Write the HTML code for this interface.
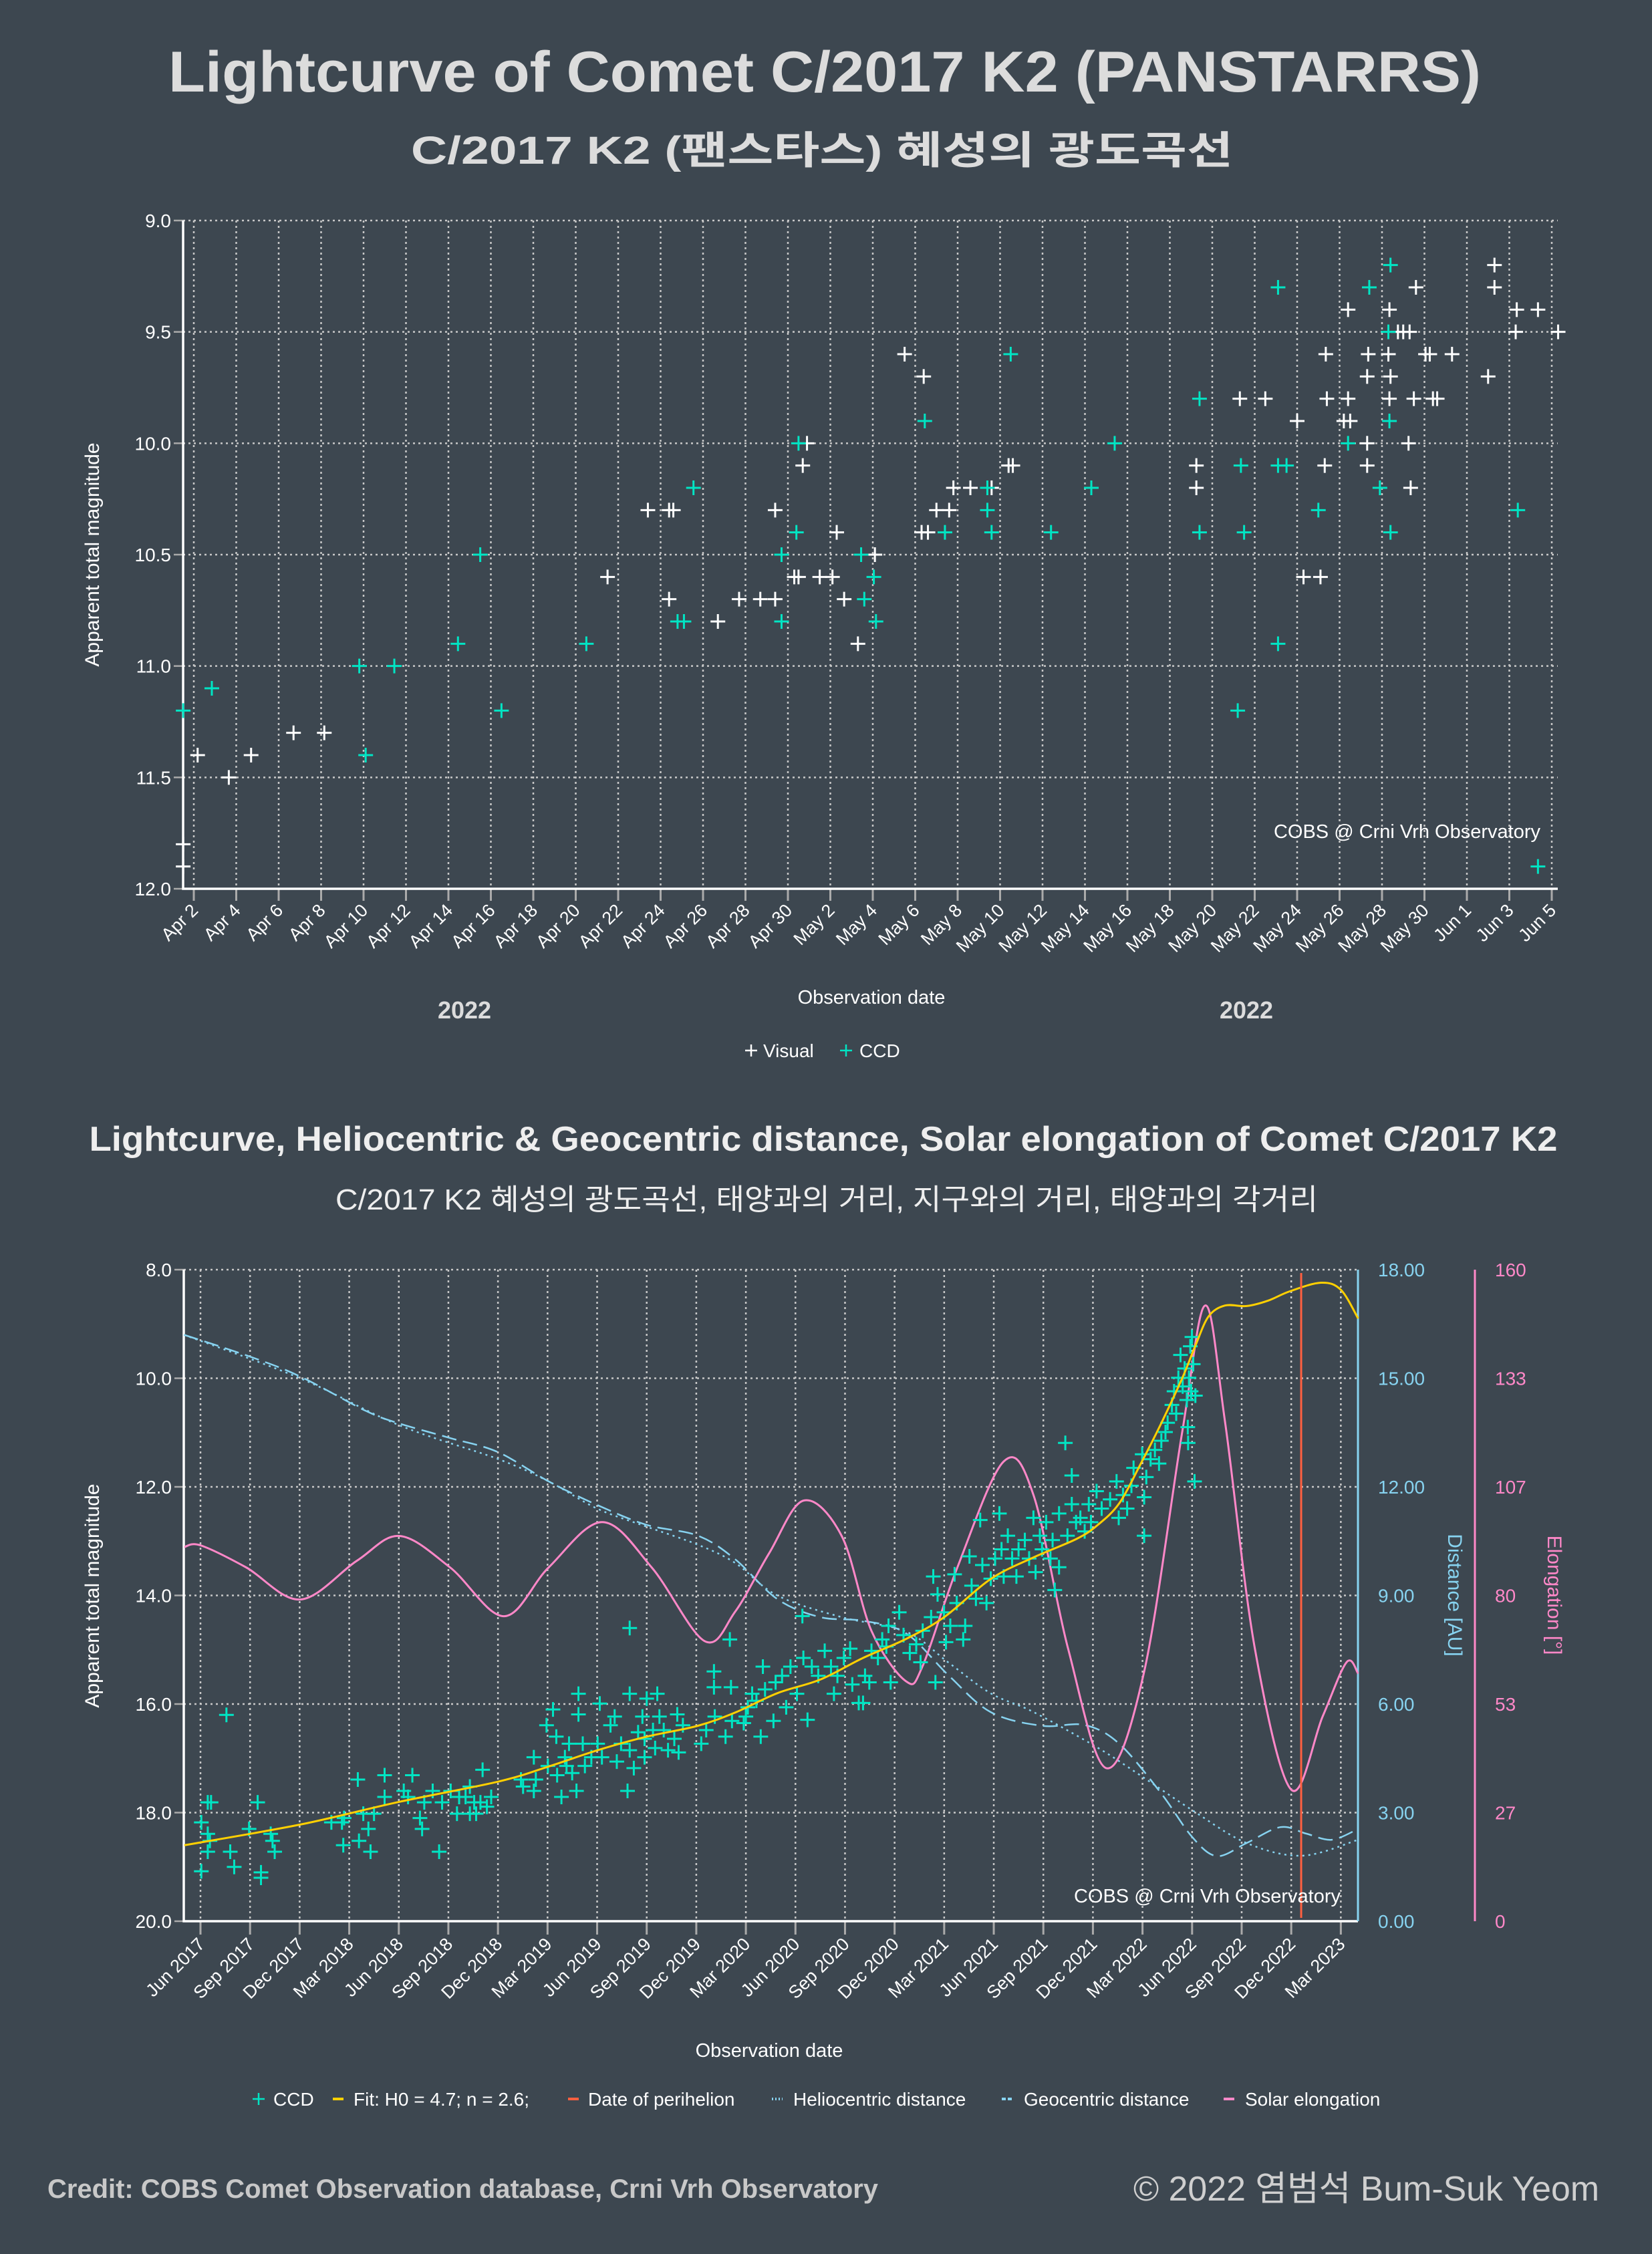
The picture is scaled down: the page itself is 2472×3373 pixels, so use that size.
<!DOCTYPE html>
<html><head><meta charset="utf-8">
<style>
html,body{margin:0;padding:0;background:#3d4750;}
svg{display:block;font-family:"Liberation Sans","Noto Sans CJK KR",sans-serif;}
</style></head>
<body>
<svg id="root" xmlns="http://www.w3.org/2000/svg" width="2472" height="3373" viewBox="0 0 2472 3373">
<rect x="0" y="0" width="2472" height="3373" fill="#3d4750"/>
<text x="1234" y="137" text-anchor="middle" font-size="86" font-weight="bold" fill="#dcdcdc" textLength="1964" lengthAdjust="spacingAndGlyphs">Lightcurve of Comet C/2017 K2 (PANSTARRS)</text>
<text x="1230" y="245" text-anchor="middle" font-size="58" font-weight="bold" fill="#dcdcdc" textLength="1230" lengthAdjust="spacingAndGlyphs">C/2017 K2 (팬스타스) 혜성의 광도곡선</text>
<text x="1232" y="1722" text-anchor="middle" font-size="52" font-weight="bold" fill="#eeeeee" textLength="2197" lengthAdjust="spacingAndGlyphs">Lightcurve, Heliocentric &amp; Geocentric distance, Solar elongation of Comet C/2017 K2</text>
<text x="1237" y="1810" text-anchor="middle" font-size="44" fill="#eeeeee" textLength="1470" lengthAdjust="spacingAndGlyphs">C/2017 K2 혜성의 광도곡선, 태양과의 거리, 지구와의 거리, 태양과의 각거리</text>
<g id="top"></g>
<g id="bot"></g>
<text x="71" y="3289" font-size="40" font-weight="bold" fill="#c8c8c8" textLength="1243" lengthAdjust="spacingAndGlyphs">Credit: COBS Comet Observation database, Crni Vrh Observatory</text>
<text x="1696" y="3293" font-size="52" fill="#cfcfcf" textLength="697" lengthAdjust="spacingAndGlyphs">© 2022 염범석 Bum-Suk Yeom</text>
</svg>
<script>
// ---------- TOP CHART DATA (day offset from Apr 2 2022, magnitude) ----------
const topTickLabels = ["Apr 2","Apr 4","Apr 6","Apr 8","Apr 10","Apr 12","Apr 14","Apr 16","Apr 18","Apr 20","Apr 22","Apr 24","Apr 26","Apr 28","Apr 30","May 2","May 4","May 6","May 8","May 10","May 12","May 14","May 16","May 18","May 20","May 22","May 24","May 26","May 28","May 30","Jun 1","Jun 3","Jun 5"];
const topYTicks = [9.0,9.5,10.0,10.5,11.0,11.5,12.0];
const visualDays = [-0.5,-0.5,0.18,1.65,2.7,4.7,6.15,19.5,21.4,22.4,22.6,22.4,24.7,25.7,26.7,27.4,27.4,28.3,28.5,29.5,28.7,28.9,30.3,30.1,30.65,31.3,32.1,33.5,34.4,34.3,34.6,35.0,35.6,35.8,36.6,37.6,38.4,38.6,47.25,47.25,49.3,50.5,52.0,52.3,53.1,53.35,53.4,53.3,54.4,54.4,54.2,54.5,55.35,55.3,55.3,55.3,56.35,56.3,56.4,56.35,56.75,57.0,57.3,57.6,57.5,57.25,57.35,58.05,58.25,58.4,58.6,59.3,61.0,61.3,61.3,62.35,63.35,62.3,64.3];
const visualMags = [11.8,11.9,11.4,11.5,11.4,11.3,11.3,10.6,10.3,10.3,10.3,10.7,10.8,10.7,10.7,10.7,10.3,10.6,10.6,10.6,10.1,10.0,10.4,10.6,10.7,10.9,10.5,9.6,9.7,10.4,10.4,10.3,10.3,10.2,10.2,10.2,10.1,10.1,10.1,10.2,9.8,9.8,9.9,10.6,10.6,9.6,9.8,10.1,9.4,9.8,9.9,9.9,9.6,9.7,10.0,10.1,9.4,9.6,9.7,9.8,9.5,9.5,9.5,9.3,9.8,10.0,10.2,9.6,9.6,9.8,9.8,9.6,9.7,9.2,9.3,9.4,9.4,9.5,9.5];
const ccdDays = [-0.5,0.85,7.8,8.1,9.45,12.45,13.5,14.5,18.5,22.8,23.1,23.55,27.7,27.7,28.4,28.5,31.45,31.6,32.05,32.15,34.45,35.4,37.4,37.4,37.6,38.5,40.4,42.3,43.4,47.4,47.4,49.2,49.35,49.5,51.1,51.1,51.5,51.1,53.0,54.4,55.4,55.9,56.4,56.3,56.35,56.4,62.4,63.35];
const ccdMags = [11.2,11.1,11.0,11.4,11.0,10.9,10.5,11.2,10.9,10.8,10.8,10.2,10.8,10.5,10.4,10.0,10.5,10.7,10.6,10.8,9.9,10.4,10.2,10.3,10.4,9.6,10.4,10.2,10.0,9.8,10.4,11.2,10.1,10.4,9.3,10.1,10.1,10.9,10.3,10.0,9.3,10.2,9.2,9.5,9.9,10.4,10.3,11.9];

// ---------- BOTTOM CHART DATA (month index from Jun 2017) ----------
const botTickLabels = ["Jun 2017","Sep 2017","Dec 2017","Mar 2018","Jun 2018","Sep 2018","Dec 2018","Mar 2019","Jun 2019","Sep 2019","Dec 2019","Mar 2020","Jun 2020","Sep 2020","Dec 2020","Mar 2021","Jun 2021","Sep 2021","Dec 2021","Mar 2022","Jun 2022","Sep 2022","Dec 2022","Mar 2023"];
const botYTicks = [8,10,12,14,16,18,20];
const distTicks = ["0.00","3.00","6.00","9.00","12.00","15.00","18.00"];
const elongTicks = ["0","27","53","80","107","133","160"];
const perihelionMonth = 66.6;
const fitMonths = [-0.98,6.03,12.04,18,21.07,24.03,27,30.1,32.4,34.9,37.5,40.1,42.7,45,47.8,50.4,53,54.3,55.6,56.85,58.1,59.4,60.2,61,62,63.3,64.6,65.9,67.8,69,70.05];
const fitMags = [18.6,18.22,17.8,17.43,17.15,16.85,16.6,16.4,16.15,15.8,15.55,15.15,14.8,14.4,13.7,13.3,12.96,12.7,12.3,11.6,10.85,10.0,9.4,8.86,8.66,8.67,8.57,8.4,8.24,8.37,8.9];
const elongMonths = [-0.98,0,2.76,6.03,9.46,12.04,15.1,18.36,21.07,24.3,27.3,30.5,32.35,34.4,36.5,38.8,40.6,42.7,43.7,45.8,48.6,50.4,52.5,54.8,57.1,59.4,60.8,62,63.8,66,67.9,69.35,70.05];
const elongDeg = [91.9,92.3,86.9,79,88.5,94.6,86.9,74.9,86.9,98,86.9,68.8,76,90.3,103.3,94.6,71.3,58.9,62.7,86.9,112.9,104.7,66.9,37.6,61.3,120.1,151.2,122.4,66.9,32.3,50.3,63.6,60.8];
const helioMonths = [-1,6.03,12.04,18,21.07,24,27,30.1,32.35,34.9,38.8,42.7,45.25,47.8,50.4,54.3,56.8,60.07,63.3,66.65,70.05];
const helioAU = [16.2,15.0,13.7,12.77,12.15,11.4,10.9,10.4,9.9,9.0,8.4,8.0,7.15,6.3,5.78,4.79,4.05,3.05,2.16,1.81,2.25];
const geoMonths = [-1,2.98,6.03,10,12.04,15.1,18,21.07,24,27,30.1,32.35,34.9,37.5,40.1,42.7,45.25,47.8,50.9,53.5,55.6,58.1,60,61.5,63.3,65.35,66.9,68.45,70.05];
const geoAU = [16.2,15.6,15.05,14.1,13.75,13.35,12.96,12.15,11.5,10.95,10.65,10.0,8.9,8.4,8.3,7.95,6.8,5.78,5.4,5.42,4.9,3.55,2.33,1.8,2.16,2.6,2.42,2.25,2.55];
const obsMonths = [0.05,0.05,0.44,0.64,0.44,0.57,0.44,1.57,1.8,2.04,2.94,3.46,3.66,3.66,4.25,4.36,4.49,7.92,8.56,8.64,8.69,9.52,9.59,9.85,10.16,10.29,10.5,11.14,11.14,12.3,12.56,12.82,13.28,13.41,13.54,14.05,14.44,14.62,15.14,15.52,15.65,16.04,16.3,16.3,16.56,16.68,17.07,16.94,17.33,17.59,19.39,19.52,20.17,20.17,20.29,20.94,21.02,21.33,21.53,21.58,21.84,22.05,22.15,22.3,22.49,22.75,22.87,22.87,23.13,23.26,23.65,24.03,24.16,24.29,24.81,25.06,25.19,25.45,25.84,25.97,25.97,25.97,26.22,26.48,26.74,26.87,26.87,27.0,27.38,27.51,27.64,27.77,28.03,28.29,28.67,28.85,28.93,29.19,30.3,30.6,31.07,31.07,31.12,31.77,32.03,32.1,32.16,
32.87,33.12,33.38,33.0,33.64,33.9,34.03,34.16,34.67,34.8,35.19,35.44,35.7,36.09,36.42,36.48,36.73,36.99,37.38,37.77,38.15,38.33,38.54,38.93,39.31,39.44,39.83,40.09,40.21,40.47,40.6,40.99,41.25,41.5,41.63,41.76,42.28,42.54,42.92,43.31,43.57,43.7,44.21,44.34,44.47,44.6,44.99,45.11,45.37,45.63,45.76,46.15,46.27,46.53,46.66,46.92,47.18,47.31,47.56,47.82,48.08,48.34,48.47,48.6,48.85,49.11,49.37,49.5,49.88,50.14,50.4,50.53,50.79,50.92,51.17,51.43,51.56,51.69,51.95,51.95,52.33,52.46,52.72,52.72,52.98,53.24,53.5,53.75,53.88,54.22,54.53,55.04,55.43,55.56,55.82,56.07,56.33,56.46,56.98,57.1,57.1,57.23,57.49,57.75,58.0,58.14,58.39,58.52,58.78,58.91,59.04,59.17,59.3,59.43,59.55,59.68,59.74,59.76,59.81,59.89,59.94,59.99,60.07,60.15,60.2];
const obsMags = [18.18,19.08,17.81,17.81,18.39,18.52,18.72,16.2,18.72,19.0,18.3,17.81,19.1,19.2,18.39,18.52,18.72,18.18,18.18,18.6,18.1,17.39,18.52,18.02,18.3,18.72,18.02,17.31,17.71,17.6,17.71,17.31,18.1,18.3,17.81,17.6,18.72,17.81,17.6,18.02,17.71,17.71,17.52,18.02,17.81,18.02,17.21,17.81,17.89,17.71,17.39,17.52,16.98,17.6,17.39,16.39,17.14,16.1,16.6,17.31,17.71,16.98,17.14,16.73,17.27,17.6,15.81,16.19,16.73,17.14,16.98,16.73,15.99,16.98,16.39,16.23,17.06,16.73,17.6,14.6,15.81,16.85,17.18,16.52,16.23,16.64,16.98,15.9,16.48,16.81,15.81,16.23,16.48,16.85,16.64,16.19,16.89,16.39,16.73,16.48,15.4,15.69,16.23,16.6,14.81,15.69,16.31,
16.35,16.06,15.81,16.23,15.94,16.6,15.31,15.73,16.31,15.6,15.48,16.06,15.31,15.81,14.38,15.15,16.29,15.31,15.48,15.02,15.31,15.81,15.48,15.15,14.98,15.64,15.98,15.98,15.48,15.6,15.02,15.15,14.81,14.94,14.56,15.6,14.31,14.73,15.06,14.9,15.23,14.65,14.4,13.65,15.6,13.98,14.31,14.86,14.56,13.61,14.14,14.81,14.56,13.28,13.82,14.06,12.61,13.44,14.14,13.69,13.32,12.49,13.15,13.65,12.9,13.32,13.65,13.15,12.98,13.32,12.57,13.57,12.9,13.15,12.65,13.32,12.98,13.9,12.49,13.48,11.19,12.9,11.79,12.32,12.65,12.57,12.82,12.32,12.65,12.08,12.4,12.23,11.9,12.57,12.15,12.4,11.98,11.65,11.4,12.9,12.19,11.82,11.49,11.32,11.57,11.15,10.99,10.82,10.49,10.24,10.65,9.99,9.57,10.15,9.82,10.4,10.9,11.19,9.99,9.41,10.24,9.24,9.74,11.9,10.32];

const NS = "http://www.w3.org/2000/svg";
function mk(parent, tag, attrs, txt){
  const e = document.createElementNS(NS, tag);
  for (const k in attrs) e.setAttribute(k, attrs[k]);
  if (txt !== undefined) e.textContent = txt;
  parent.appendChild(e);
  return e;
}
function smoothPath(pts){
  let d = "M" + pts[0][0].toFixed(1) + "," + pts[0][1].toFixed(1);
  for (let i = 0; i < pts.length - 1; i++){
    const p0 = pts[Math.max(0,i-1)], p1 = pts[i], p2 = pts[i+1], p3 = pts[Math.min(pts.length-1,i+2)];
    const c1x = p1[0] + (p2[0]-p0[0])/6, c1y = p1[1] + (p2[1]-p0[1])/6;
    const c2x = p2[0] - (p3[0]-p1[0])/6, c2y = p2[1] - (p3[1]-p1[1])/6;
    d += " C" + c1x.toFixed(1)+","+c1y.toFixed(1)+" "+c2x.toFixed(1)+","+c2y.toFixed(1)+" "+p2[0].toFixed(1)+","+p2[1].toFixed(1);
  }
  return d;
}
function cross(g, x, y, h, color, w){
  return mk(g, "path", {d:"M"+(x-h)+","+y+"H"+(x+h)+"M"+x+","+(y-h)+"V"+(y+h), stroke:color, "stroke-width":w, fill:"none"});
}

// ================= TOP CHART =================
(function(){
  const g = document.getElementById("top");
  const L = 274, R = 2331, T = 330, B = 1330;
  const xS = d => 290 + d * 31.75;
  const yS = m => T + (m - 9) * (B - T) / 3;
  topYTicks.forEach(v => {
    const gl = mk(g, "line", {x1:L, x2:R, y1:yS(v), y2:yS(v), stroke:"#c8c8c8", "stroke-width":2.5, "stroke-dasharray":"3,5"});
    
    
    mk(g, "line", {x1:L-14, x2:L, y1:yS(v), y2:yS(v), stroke:"#aaaaaa", "stroke-width":2.5});
    const t = mk(g, "text", {x:L-18, y:yS(v)+10, "text-anchor":"end", "font-size":28, fill:"#ffffff"}, v.toFixed(1));
    
    
  });
  topTickLabels.forEach((lab, i) => {
    const x = xS(i * 2);
    const gl = mk(g, "line", {x1:x, x2:x, y1:T, y2:B, stroke:"#c8c8c8", "stroke-width":2.5, "stroke-dasharray":"3,5"});
    
    
    mk(g, "line", {x1:x, x2:x, y1:B, y2:B+18, stroke:"#aaaaaa", "stroke-width":3});
    const t = mk(g, "text", {x:x+8, y:B+34, "text-anchor":"end", "font-size":27, fill:"#ffffff", transform:"rotate(-45 "+(x+8)+" "+(B+34)+")"}, lab);
    
    
  });
  const ax = mk(g, "path", {d:"M"+L+","+T+"V"+B+"H"+R, stroke:"#ffffff", "stroke-width":3.5, fill:"none"});
  
  
  visualDays.forEach((d, i) => {
    const c = cross(g, xS(d), yS(visualMags[i]), 11, "#ffffff", 3);
    
    
  });
  ccdDays.forEach((d, i) => {
    const c = cross(g, xS(d), yS(ccdMags[i]), 11, "#00e5c4", 3);
    
    
  });
  let t;
  t = mk(g, "text", {x:148, y:830, "text-anchor":"middle", "font-size":30, fill:"#ffffff", transform:"rotate(-90 148 830)"}, "Apparent total magnitude");
  
  
  t = mk(g, "text", {x:1304, y:1502, "text-anchor":"middle", "font-size":29, fill:"#ffffff"}, "Observation date");
  
  
  t = mk(g, "text", {x:695, y:1524, "text-anchor":"middle", "font-size":36, "font-weight":"bold", fill:"#dcdcdc"}, "2022");
  
  
  t = mk(g, "text", {x:1865, y:1524, "text-anchor":"middle", "font-size":36, "font-weight":"bold", fill:"#dcdcdc"}, "2022");
  
  
  t = mk(g, "text", {x:2305, y:1254, "text-anchor":"end", "font-size":29, fill:"#ffffff"}, "COBS @ Crni Vrh Observatory");
  
  
  // legend
  let c = cross(g, 1124, 1572, 9, "#ffffff", 2.5);
  
  
  t = mk(g, "text", {x:1142, y:1582, "font-size":28, fill:"#ffffff"}, "Visual");
  
  
  c = cross(g, 1266, 1572, 9, "#00e5c4", 2.5);
  
  
  t = mk(g, "text", {x:1286, y:1582, "font-size":28, fill:"#ffffff"}, "CCD");
  
  
})();

// ================= BOTTOM CHART =================
(function(){
  const g = document.getElementById("bot");
  const L = 275, R = 2032, T = 1900, B = 2875;
  const xS = m => 300 + m * 24.73;
  const yS = m => T + (m - 8) * (B - T) / 12;
  const yD = d => B - d / 18 * (B - T);
  const yE = e => B - e / 160 * (B - T);
  botYTicks.forEach((v, i) => {
    const gl = mk(g, "line", {x1:L, x2:R, y1:yS(v), y2:yS(v), stroke:"#c8c8c8", "stroke-width":2.5, "stroke-dasharray":"3,5"});
    
    
    mk(g, "line", {x1:L-14, x2:L, y1:yS(v), y2:yS(v), stroke:"#aaaaaa", "stroke-width":2.5});
    let t = mk(g, "text", {x:L-18, y:yS(v)+10, "text-anchor":"end", "font-size":28, fill:"#ffffff"}, v.toFixed(1));
    
    
    const yy = B - i * (B - T) / 6;
    t = mk(g, "text", {x:2062, y:yy+10, "font-size":28, fill:"#87d3f0"}, distTicks[i]);
    
    
    t = mk(g, "text", {x:2237, y:yy+10, "font-size":28, fill:"#ff88c8"}, elongTicks[i]);
    
    
  });
  botTickLabels.forEach((lab, i) => {
    const x = xS(i * 3);
    const gl = mk(g, "line", {x1:x, x2:x, y1:T, y2:B, stroke:"#c8c8c8", "stroke-width":2.5, "stroke-dasharray":"3,5"});
    
    
    mk(g, "line", {x1:x, x2:x, y1:B, y2:B+20, stroke:"#aaaaaa", "stroke-width":3});
    const t = mk(g, "text", {x:x+8, y:B+36, "text-anchor":"end", "font-size":27, fill:"#ffffff", transform:"rotate(-45 "+(x+8)+" "+(B+36)+")"}, lab);
    
    
  });
  let e;
  e = mk(g, "path", {d:"M"+L+","+T+"V"+B+"H"+R, stroke:"#ffffff", "stroke-width":3.5, fill:"none"});
  
  
  e = mk(g, "line", {x1:R, x2:R, y1:T, y2:B, stroke:"#87d3f0", "stroke-width":3});
  
  
  e = mk(g, "line", {x1:2207, x2:2207, y1:T, y2:B, stroke:"#ff88c8", "stroke-width":3});
  
  

  e = mk(g, "path", {d:smoothPath(helioMonths.map((m,i)=>[xS(m), yD(helioAU[i])])), stroke:"#87d3f0", "stroke-width":2.5, "stroke-dasharray":"3,6", fill:"none"});
  
  
  e = mk(g, "path", {d:smoothPath(geoMonths.map((m,i)=>[xS(m), yD(geoAU[i])])), stroke:"#87d3f0", "stroke-width":2.5, "stroke-dasharray":"22,10", fill:"none"});
  
  
  e = mk(g, "path", {d:smoothPath(elongMonths.map((m,i)=>[xS(m), yE(elongDeg[i])])), stroke:"#ff88c8", "stroke-width":3, fill:"none"});
  
  
  obsMonths.forEach((m, i) => {
    const c = cross(g, xS(m), yS(obsMags[i]), 11, "#00e5c4", 3);
    
    
  });
  e = mk(g, "path", {d:smoothPath(fitMonths.map((m,i)=>[xS(m), yS(fitMags[i])])), stroke:"#ffd000", "stroke-width":3, fill:"none"});
  
  
  e = mk(g, "line", {x1:xS(perihelionMonth), x2:xS(perihelionMonth), y1:T+5, y2:B-5, stroke:"#ff6040", "stroke-width":3});
  
  

  let t;
  t = mk(g, "text", {x:148, y:2388, "text-anchor":"middle", "font-size":30, fill:"#ffffff", transform:"rotate(-90 148 2388)"}, "Apparent total magnitude");
  
  
  t = mk(g, "text", {x:2167, y:2387, "text-anchor":"middle", "font-size":30, fill:"#87d3f0", transform:"rotate(90 2167 2387)"}, "Distance [AU]");
  
  
  t = mk(g, "text", {x:2316, y:2387, "text-anchor":"middle", "font-size":30, fill:"#ff88c8", transform:"rotate(90 2316 2387)"}, "Elongation [°]");
  
  
  t = mk(g, "text", {x:1151, y:3078, "text-anchor":"middle", "font-size":29, fill:"#ffffff"}, "Observation date");
  
  
  t = mk(g, "text", {x:2006, y:2847, "text-anchor":"end", "font-size":29, fill:"#ffffff"}, "COBS @ Crni Vrh Observatory");
  
  

  // legend
  const ly = 3141;
  let c = cross(g, 387, ly, 9, "#00e5c4", 2.5);
  
  
  t = mk(g, "text", {x:409, y:ly+10, "font-size":28, fill:"#ffffff"}, "CCD");
  
  
  const items = [[506,529,"#ffd000","none","Fit: H0 = 4.7; n = 2.6;","legend-fit"],[858,880,"#ff6040","none","Date of perihelion","legend-perihelion"],[1163,1187,"#87d3f0","2,3","Heliocentric distance","legend-heliocentric"],[1507,1532,"#87d3f0","6,3","Geocentric distance","legend-geocentric"],[1839,1863,"#ff88c8","none","Solar elongation","legend-elongation"]];
  items.forEach(it => {
    const s = mk(g, "line", {x1:it[0]-8, x2:it[0]+8, y1:ly, y2:ly, stroke:it[2], "stroke-width":4, "stroke-dasharray":it[3]});
    
    
    const tt = mk(g, "text", {x:it[1], y:ly+10, "font-size":28, fill:"#ffffff"}, it[4]);
    
    
  });
})();
</script>
</body></html>
